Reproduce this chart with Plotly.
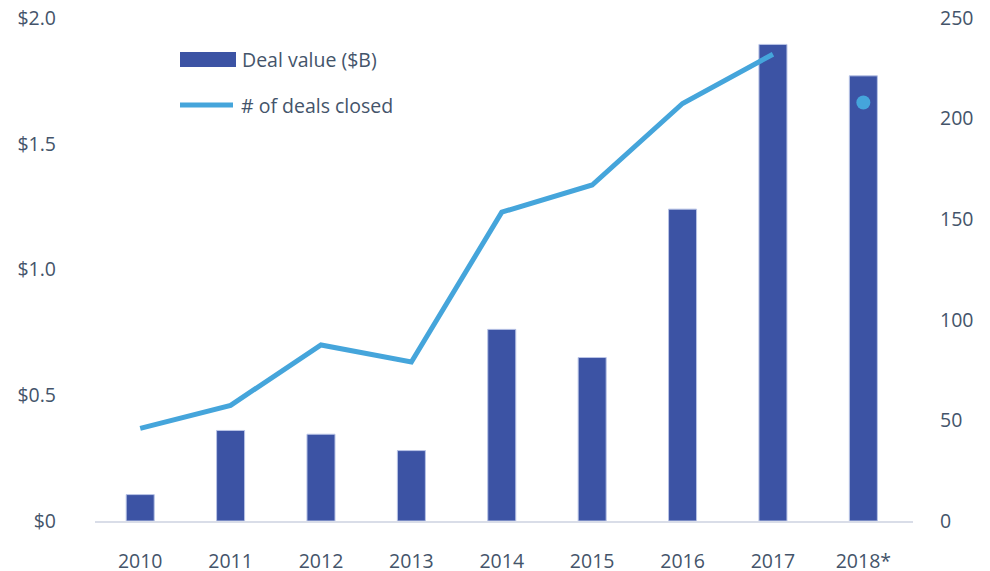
import plotly.graph_objects as go

years = ["2010", "2011", "2012", "2013", "2014", "2015", "2016", "2017", "2018*"]
deal_value = [0.105, 0.36, 0.345, 0.28, 0.762, 0.65, 1.24, 1.895, 1.77]
deals_closed_years = ["2010", "2011", "2012", "2013", "2014", "2015", "2016", "2017"]
deals_closed = [46, 57.5, 87.5, 79, 153.5, 167, 207.5, 232]
deals_2018_year = ["2018*"]
deals_2018 = [208]

left_ticks = [0, 0.5, 1.0, 1.5, 2.0]
left_labels = ["$0", "$0.5", "$1.0", "$1.5", "$2.0"]
right_ticks = [0, 50, 100, 150, 200, 250]

BAR = "#3c53a4"
LINE = "#45a5db"
TXT = "#44546a"
FONT = "Open Sans"
FS = 19.5

fig = go.Figure()
fig.add_trace(go.Bar(x=years, y=deal_value, name="Deal value ($B)",
                     marker=dict(color=BAR, line=dict(color="#b9c4e6", width=1)),
                     yaxis="y"))
fig.add_trace(go.Scatter(x=deals_closed_years, y=deals_closed, mode="lines",
                         name="# of deals closed",
                         line=dict(color=LINE, width=5), yaxis="y2"))
fig.add_trace(go.Scatter(x=deals_2018_year, y=deals_2018, mode="markers",
                         marker=dict(color=LINE, size=14), showlegend=False,
                         yaxis="y2"))

OFF = 8  # page body margin
W, H = 990 - OFF, 580
L, R, T = 95 - OFF, 77, 18 - OFF
B = H - (521 - OFF)
pw, ph = W - L - R, H - T - B

def px(x):
    return (x - OFF - L) / pw

def py(y):
    return (H - B - (y - OFF)) / ph

shapes = [
    dict(type="rect", xref="paper", yref="paper", x0=px(180), x1=px(236),
         y0=py(67), y1=py(52), fillcolor=BAR, line=dict(width=0)),
    dict(type="line", xref="paper", yref="paper", x0=px(180), x1=px(233),
         y0=py(105), y1=py(105), line=dict(color=LINE, width=5)),
]
annotations = [
    dict(xref="paper", yref="paper", x=px(240), y=py(60), text="Deal value ($B)",
         showarrow=False, xanchor="left", yanchor="middle",
         font=dict(family=FONT, size=FS, color=TXT)),
    dict(xref="paper", yref="paper", x=px(239), y=py(105), text="# of deals closed",
         showarrow=False, xanchor="left", yanchor="middle",
         font=dict(family=FONT, size=FS, color=TXT)),
]

fig.update_layout(
    width=W, height=H,
    margin=dict(l=L, r=R, t=T, b=B),
    paper_bgcolor="white", plot_bgcolor="white",
    showlegend=False,
    bargap=0.69,
    font=dict(family=FONT, size=FS, color=TXT),
    xaxis=dict(showgrid=False, showline=True, linecolor="#d9dde8", linewidth=2,
               ticks="", ticklabelstandoff=22, automargin=False,
               ticklabeloverflow="allow",
               tickfont=dict(size=FS, color=TXT)),
    yaxis=dict(range=[0, 2.0], tickvals=left_ticks, ticktext=left_labels,
               showgrid=False, zeroline=False, showline=False, automargin=False,
               ticklabeloverflow="allow",
               ticklabelstandoff=38, tickfont=dict(size=FS, color=TXT)),
    yaxis2=dict(range=[0, 250], tickvals=right_ticks, overlaying="y", side="right",
                showgrid=False, zeroline=False, showline=False, automargin=False,
                ticklabeloverflow="allow",
                ticklabelstandoff=26, tickfont=dict(size=FS, color=TXT)),
    shapes=shapes,
    annotations=annotations,
)

fig.write_html("out.html")
